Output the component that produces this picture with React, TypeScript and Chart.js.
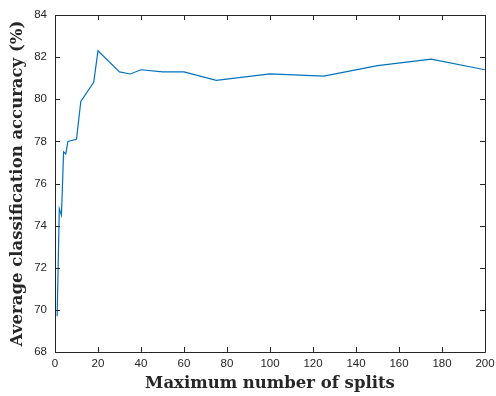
import React, { useEffect, useRef } from "react";
import { Chart, registerables } from "chart.js";

Chart.register(...registerables);

const splits = [1, 2, 3, 4, 5, 6, 10, 12, 18, 20, 30, 35, 40, 50, 60, 75, 100, 125, 150, 175, 200];
const accuracy = [69.7, 74.8, 74.5, 77.5, 77.4, 78.0, 78.1, 79.9, 80.8, 82.3, 81.3, 81.2, 81.4, 81.3, 81.3, 80.9, 81.2, 81.1, 81.6, 81.9, 81.4];
const xTicks = [0, 20, 40, 60, 80, 100, 120, 140, 160, 180, 200];
const yTicks = [68, 70, 72, 74, 76, 78, 80, 82, 84];
const xLabel = "Maximum number of splits";
const yLabel = "Average classification accuracy (%)";

const AXIS_COLOR = "#262626";

const boxPlugin = {
  id: "matlabBox",
  afterDatasetsDraw(chart: any) {
    const { ctx, chartArea, scales } = chart;
    const { left, right, top, bottom } = chartArea;
    const tl = 5;
    ctx.save();
    ctx.strokeStyle = AXIS_COLOR;
    ctx.lineWidth = 1;
    ctx.beginPath();
    ctx.rect(Math.round(left) + 0.5, Math.round(top) + 0.5, Math.round(right - left), Math.round(bottom - top));
    ctx.stroke();
    ctx.beginPath();
    xTicks.forEach((v) => {
      const x = Math.round(scales.x.getPixelForValue(v)) + 0.5;
      ctx.moveTo(x, bottom);
      ctx.lineTo(x, bottom - tl);
      ctx.moveTo(x, top);
      ctx.lineTo(x, top + tl);
    });
    yTicks.forEach((v) => {
      const y = Math.round(scales.y.getPixelForValue(v)) + 0.5;
      ctx.moveTo(left, y);
      ctx.lineTo(left + tl, y);
      ctx.moveTo(right, y);
      ctx.lineTo(right - tl, y);
    });
    ctx.stroke();
    ctx.restore();
  },
};

export default function App() {
  const ref = useRef<HTMLCanvasElement | null>(null);

  useEffect(() => {
    document.body.style.margin = "0";
    const canvas = ref.current;
    if (!canvas) return;
    const chart = new Chart(canvas, {
      type: "line",
      data: {
        datasets: [
          {
            data: splits.map((s, i) => ({ x: s, y: accuracy[i] })),
            borderColor: "#0072BD",
            borderWidth: 1.2,
            pointRadius: 0,
            tension: 0,
            fill: false,
          },
        ],
      },
      plugins: [boxPlugin],
      options: {
        responsive: false,
        animation: false,
        maintainAspectRatio: false,
        layout: { padding: { top: 15, right: 11, left: 0, bottom: 0 } },
        plugins: { legend: { display: false }, tooltip: { enabled: false } },
        scales: {
          x: {
            type: "linear",
            min: 0,
            max: 200,
            afterBuildTicks: (scale: any) => {
              scale.ticks = xTicks.map((v) => ({ value: v }));
            },
            afterFit: (scale: any) => {
              scale.height = 44;
              scale.paddingLeft = 0;
              scale.paddingRight = 0;
            },
            grid: { display: false, drawTicks: false },
            border: { display: false },
            ticks: {
              padding: 5,
              color: AXIS_COLOR,
              font: { family: "'Liberation Sans', Arial, sans-serif", size: 11.5 },
              maxRotation: 0,
              autoSkip: false,
            },
            title: {
              display: true,
              text: xLabel,
              color: AXIS_COLOR,
              font: { family: "'DejaVu Serif', 'Liberation Serif', serif", size: 16.5, weight: "bold" },
              padding: { top: 0, bottom: 2 },
            },
          },
          y: {
            type: "linear",
            min: 68,
            max: 84,
            afterBuildTicks: (scale: any) => {
              scale.ticks = yTicks.map((v) => ({ value: v }));
            },
            afterFit: (scale: any) => {
              scale.width = 55;
              scale.paddingTop = 0;
              scale.paddingBottom = 0;
            },
            grid: { display: false, drawTicks: false },
            border: { display: false },
            ticks: {
              padding: 8,
              color: AXIS_COLOR,
              font: { family: "'Liberation Sans', Arial, sans-serif", size: 11.5 },
              autoSkip: false,
            },
            title: {
              display: true,
              text: yLabel,
              color: AXIS_COLOR,
              font: { family: "'DejaVu Serif', 'Liberation Serif', serif", size: 16.5, weight: "bold" },
              padding: { top: 8, bottom: 0 },
            },
          },
        },
      },
    } as any);
    return () => chart.destroy();
  }, []);

  return (
    <div style={{ position: "absolute", left: 0, top: 0, width: 496, height: 396, background: "#fff" }}>
      <canvas ref={ref} width={496} height={396} style={{ display: "block" }} />
    </div>
  );
}
